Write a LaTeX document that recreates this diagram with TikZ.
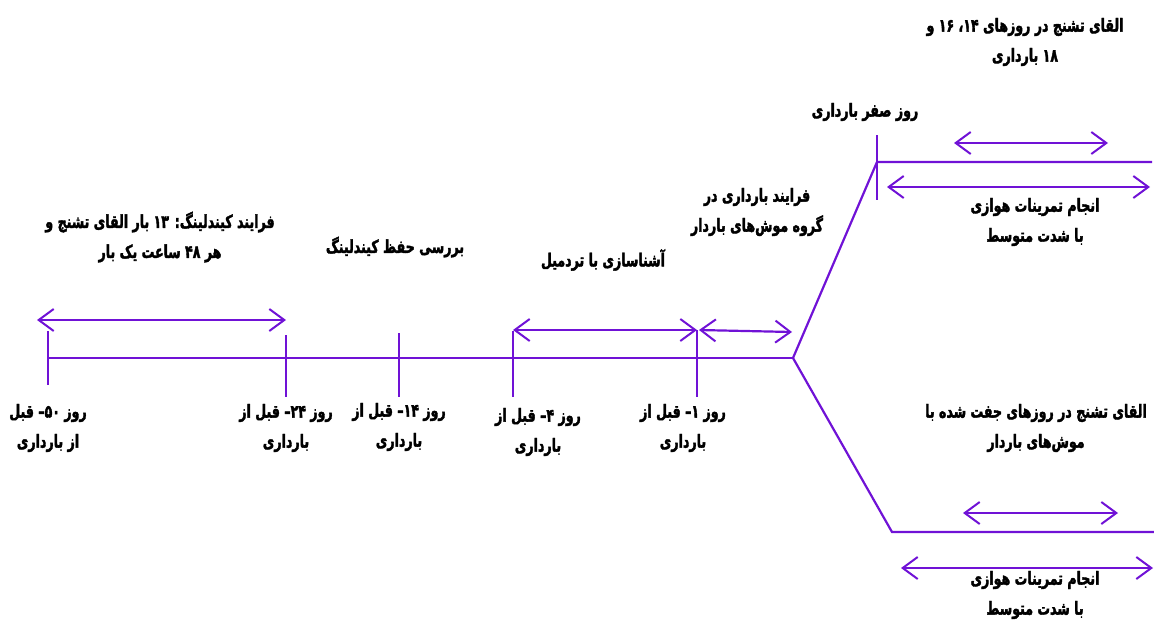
\documentclass[tikz,border=0pt]{standalone}
\usepackage{fontspec}
\usetikzlibrary{arrows.meta}
\TeXXeTstate=1
\newfontfamily\arabicfont[Script=Arabic, FakeStretch=0.7, FakeBold=2]{DejaVu Sans}
\newcommand\rl[1]{\beginR #1\endR}
\definecolor{tl}{RGB}{112,18,214}
\tikzset{
  lbl/.style={font=\arabicfont\bfseries\fontsize{18}{30}\selectfont, align=center, inner sep=0pt, text=black},
  tline/.style={draw=tl, line width=2.2pt},
  span/.style={tline, {Straight Barb[length=15pt,width=22pt,line width=2pt]}-{Straight Barb[length=15pt,width=22pt,line width=2pt]}},
}
\begin{document}
\begin{tikzpicture}[x=1pt,y=-1pt]
\useasboundingbox (0,0) rectangle (1154,619);
% main timeline and the fork
\coordinate (start) at (48,358);
\coordinate (fork) at (793,358);
\coordinate (upbend) at (877,162);
\coordinate (upend) at (1152,162);
\coordinate (lowbend) at (892,532);
\coordinate (lowend) at (1154,532);
\draw[tline] (start) -- (fork);
\draw[tline, line join=miter] (fork) -- (upbend) -- (upend);
\draw[tline, line join=miter] (fork) -- (lowbend) -- (lowend);
% ticks
\coordinate (t1a) at (48,331);  \coordinate (t1b) at (48,385);
\coordinate (t2a) at (286,335); \coordinate (t2b) at (286,397);
\coordinate (t3a) at (399,333); \coordinate (t3b) at (399,397);
\coordinate (t4a) at (513,331); \coordinate (t4b) at (513,397);
\coordinate (t5a) at (697,330); \coordinate (t5b) at (697,397);
\coordinate (t6a) at (877,135); \coordinate (t6b) at (877,200);
\foreach \i in {1,...,6} \draw[tline] (t\i a) -- (t\i b);
% spans
\coordinate (a1l) at (37,320);  \coordinate (a1r) at (286,320);
\coordinate (a2l) at (513,330); \coordinate (a2r) at (697,330);
\coordinate (a3l) at (699,330); \coordinate (a3r) at (792,332);
\coordinate (a4l) at (954,143); \coordinate (a4r) at (1108,143);
\coordinate (a5l) at (887,187); \coordinate (a5r) at (1150,187);
\coordinate (a6l) at (963,513); \coordinate (a6r) at (1118,513);
\coordinate (a7l) at (901,568); \coordinate (a7r) at (1153,568);
\foreach \i in {1,...,7} \draw[span] (a\i l) -- (a\i r);
% labels above the timeline
\node[lbl] (kind) at (160,237) {\rl{فرایند کیندلینگ: ۱۳ بار القای تشنج و}\\\rl{هر ۴۸ ساعت یک بار}};
\node[lbl] (keep) at (395,247) {\rl{بررسی حفظ کیندلینگ}};
\node[lbl] (tread) at (603,260) {\rl{آشناسازی با تردمیل}};
\node[lbl] (preg) at (757,212) {\rl{فرایند بارداری در}\\\rl{گروه موش‌های باردار}};
\node[lbl] (day0) at (865,112) {\rl{روز صفر بارداری}};
\node[lbl] (seizA) at (1025,42) {\rl{القای تشنج در روزهای ۱۴، ۱۶ و}\\\rl{۱۸ بارداری}};
\node[lbl] (exA) at (1035,222) {\rl{انجام تمرینات هوازی}\\\rl{با شدت متوسط}};
\node[lbl] (seizB) at (1036,428) {\rl{القای تشنج در روزهای جفت شده با}\\\rl{موش‌های باردار}};
\node[lbl] (exB) at (1035,595) {\rl{انجام تمرینات هوازی}\\\rl{با شدت متوسط}};
% labels below the timeline
\node[lbl] (d50) at (48,428) {\rl{روز ۵۰– قبل}\\\rl{از بارداری}};
\node[lbl] (d24) at (286,428) {\rl{روز ۲۴– قبل از}\\\rl{بارداری}};
\node[lbl] (d14) at (399,427) {\rl{روز ۱۴– قبل از}\\\rl{بارداری}};
\node[lbl] (d4) at (538,432) {\rl{روز ۴– قبل از}\\\rl{بارداری}};
\node[lbl] (d1) at (683,428) {\rl{روز ۱– قبل از}\\\rl{بارداری}};
\end{tikzpicture}
\end{document}
